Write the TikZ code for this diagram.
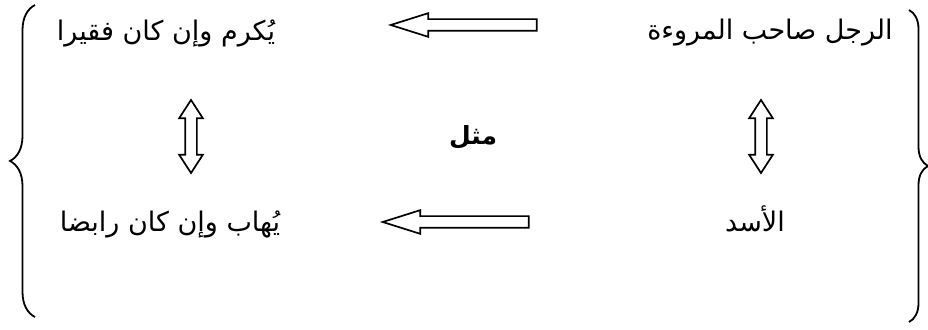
\documentclass[tikz,border=0pt]{standalone}
\usepackage{fontspec}
\newfontfamily\arabicfont[Script=Arabic]{DejaVu Sans}
\TeXXeTstate=1
\usepackage{tikz}
\usetikzlibrary{shapes.arrows, decorations.pathreplacing, positioning}

\tikzset{
    phrase/.style={font=\arabicfont\fontsize{27}{32}\selectfont, inner sep=0pt, anchor=base},
    leftarrow/.style={draw, line width=1.7pt, single arrow, shape border rotate=180,
        minimum height=146pt, inner sep=5pt, single arrow head extend=6pt,
        single arrow tip angle=35},
    updown/.style={draw, line width=1.7pt, double arrow, shape border rotate=90,
        minimum height=73pt, inner sep=5pt, double arrow head extend=6pt,
        double arrow tip angle=66},
    bracket/.style={decorate, decoration={brace, amplitude=#1}, line width=1.8pt},
    bracket/.default=25pt
}

\begin{document}
\begin{tikzpicture}[x=1pt, y=1pt]
    \useasboundingbox (0,0) rectangle (928,329);
    \node[phrase] (rajul) at (770,289) {\beginR الرجل صاحب المروءة\endR};
    \node[phrase] (yukram) at (166,288) {\beginR يُكرم وإن كان فقيرا\endR};
    \node[phrase] (usud) at (755,97) {\beginR الأسد\endR};
    \node[phrase] (yuhab) at (170,97) {\beginR يُهاب وإن كان رابضا\endR};
    \node[font=\arabicfont\bfseries\fontsize{25}{30}\selectfont, inner sep=0pt] (mathal) at (473,192) {\beginR مثل\endR};
    \node[leftarrow] (toparrow) at (473,304) {};
    \node[leftarrow] (botarrow) at (465,107) {};
    \node[updown] (leftupdown) at (191,192.5) {};
    \node[updown] (rightupdown) at (761,192.5) {};
    \draw[bracket] (35,12) -- (35,324);
    \draw[bracket=19pt] (909,319) -- (909,7);
\end{tikzpicture}
\end{document}
